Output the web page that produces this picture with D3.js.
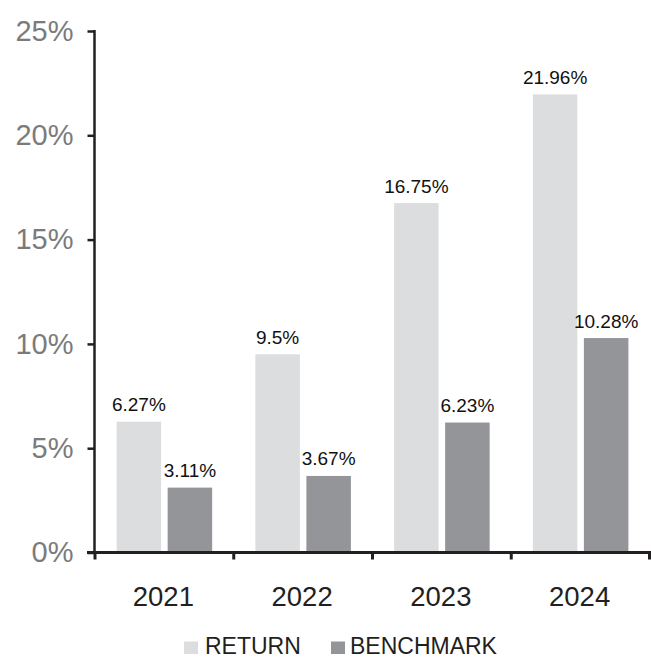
<!DOCTYPE html>
<html>
<head>
<meta charset="utf-8">
<script src="https://cdn.jsdelivr.net/npm/d3@7"></script>
<style>
  html, body { margin: 0; padding: 0; background: #fff; }
  svg { display: block; font-family: "Liberation Sans", Arial, sans-serif; }
</style>
</head>
<body>
<script>
// Annual performance vs benchmark
const years = ["2021", "2022", "2023", "2024"];
const seriesNames = ["RETURN", "BENCHMARK"];
const returnValues = [6.27, 9.5, 16.75, 21.96];
const benchmarkValues = [3.11, 3.67, 6.23, 10.28];
const valueLabels = [
  ["6.27%", "3.11%"],
  ["9.5%", "3.67%"],
  ["16.75%", "6.23%"],
  ["21.96%", "10.28%"]
];
const yTicks = [0, 5, 10, 15, 20, 25];
const seriesColors = ["#dcdddf", "#939598"];

const W = 651, H = 659;
const axisColor = "#231f20";

const svg = d3.select("body").append("svg")
  .attr("width", W).attr("height", H);

const y = d3.scaleLinear().domain([0, 25]).range([552.5, 31]);
const x = d3.scaleBand().domain(years).range([95, 650]).padding(0);
const xInner = d3.scaleBand().domain(seriesNames)
  .range([21.6, x.bandwidth() - 21.6]).paddingInner(0.128).paddingOuter(0);

const rows = years.map((yr, i) => ({
  year: yr,
  values: [returnValues[i], benchmarkValues[i]],
  labels: valueLabels[i]
}));

// Bars
const groups = svg.append("g").selectAll("g").data(rows).join("g")
  .attr("transform", d => `translate(${x(d.year)},0)`);

groups.selectAll("rect")
  .data(d => d.values.map((v, k) => ({ name: seriesNames[k], v, k, label: d.labels[k] })))
  .join("rect")
  .attr("x", d => xInner(d.name))
  .attr("width", xInner.bandwidth())
  .attr("y", d => y(d.v))
  .attr("height", d => y(0) - y(d.v))
  .attr("fill", d => seriesColors[d.k]);

groups.selectAll("text.val")
  .data(d => d.values.map((v, k) => ({ name: seriesNames[k], v, k, label: d.labels[k] })))
  .join("text")
  .attr("class", "val")
  .attr("x", d => xInner(d.name) + xInner.bandwidth() / 2)
  .attr("y", d => y(d.v) - 10.5)
  .attr("text-anchor", "middle")
  .attr("font-size", 19)
  .attr("fill", "#111")
  .text(d => d.label);

// Y axis
const yAxis = d3.axisLeft(y).tickValues(yTicks).tickFormat(d => d + "%")
  .tickSize(7).tickPadding(14);
const gy = svg.append("g").attr("transform", "translate(94.5,0)").call(yAxis);
gy.select(".domain").attr("stroke", axisColor).attr("stroke-width", 2.5)
  .attr("d", `M0,${y(25) - 1}V${y(0)}`);
gy.selectAll(".tick line").attr("stroke", axisColor).attr("stroke-width", 2.5);
gy.selectAll(".tick text")
  .attr("font-size", 29)
  .attr("fill", "#7b7b7b")
  .attr("font-family", "Liberation Sans, Arial, sans-serif");

// X axis baseline with boundary ticks
const gx = svg.append("g");
gx.append("line")
  .attr("x1", 87).attr("x2", W)
  .attr("y1", y(0)).attr("y2", y(0))
  .attr("stroke", axisColor).attr("stroke-width", 3);
const boundaries = years.map(yr => x(yr)).concat([x(years[years.length - 1]) + x.bandwidth()]);
gx.selectAll("line.b").data(boundaries).join("line")
  .attr("class", "b")
  .attr("x1", d => Math.min(d, W - 1.5)).attr("x2", d => Math.min(d, W - 1.5))
  .attr("y1", y(0)).attr("y2", y(0) + 7)
  .attr("stroke", axisColor).attr("stroke-width", 3);
gx.selectAll("text").data(years).join("text")
  .attr("x", d => x(d) + x.bandwidth() / 2 - 1)
  .attr("y", 606)
  .attr("text-anchor", "middle")
  .attr("font-size", 27.5)
  .attr("fill", axisColor)
  .text(d => d);

// Legend
const legendX = [184, 331];
const legend = svg.append("g").selectAll("g").data(seriesNames).join("g")
  .attr("transform", (d, i) => `translate(${legendX[i]},0)`);
legend.append("rect")
  .attr("x", 0).attr("y", 641.5).attr("width", 14).attr("height", 12.5)
  .attr("fill", (d, i) => seriesColors[i]);
legend.append("text")
  .attr("x", (d, i) => i === 0 ? 21 : 19)
  .attr("y", 654)
  .attr("font-size", 23)
  .attr("fill", axisColor)
  .text(d => d);
</script>
</body>
</html>
